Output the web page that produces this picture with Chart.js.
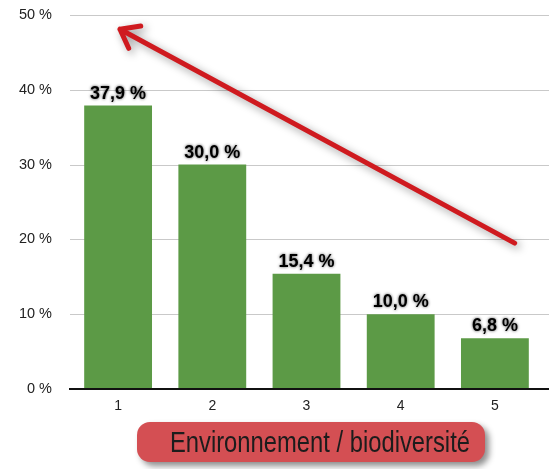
<!DOCTYPE html>
<html>
<head>
<meta charset="utf-8">
<script src="https://cdn.jsdelivr.net/npm/chart.js@4"></script>
<style>
  html, body { margin: 0; padding: 0; background: #fff; }
  #wrap { position: relative; width: 549px; height: 469px; }
  #footer {
    position: absolute; left: 137px; top: 422px; width: 348px; height: 40px;
    border-radius: 13px; background: #d44f53;
    box-shadow: 4px 4px 6px rgba(0,0,0,0.45);
    font: 29px 'Liberation Sans', Arial, sans-serif;
    color: #1c1c1c; text-align: center; line-height: 40px; white-space: nowrap;
  }
  #footer span { display: inline-block; transform: scaleX(0.82); transform-origin: center; }
</style>
</head>
<body>
<div id="wrap">
  <canvas id="chart" width="549" height="469"></canvas>
  <div id="footer"><span></span></div>
</div>
<script>
// values
const categories = ['1', '2', '3', '4', '5'];
const shares = [37.9, 30.0, 15.4, 10.0, 6.8];
const yTickValues = [0, 10, 20, 30, 40, 50];
// red arrow, in chart units (category index, percent)
const arrowFrom = { x: 4.21, y: 19.5 };
const arrowTo = { x: 0.02, y: 48.1 };
const footerText = 'Environnement / biodiversité';

const FONT = "'Liberation Sans', Arial, Helvetica, sans-serif";

document.querySelector('#footer span').textContent = footerText;

function pct(v) {
    return v.toFixed(1).replace('.', ',') + ' %';
}

// grid lines run past the plot to the canvas edge, axis line over the bars
const gridPlugin = {
    id: 'grid',
    beforeDatasetsDraw(chart) {
        const ctx = chart.ctx, y = chart.scales.y;
        ctx.save();
        ctx.strokeStyle = '#c9c9c9';
        ctx.lineWidth = 1;
        yTickValues.forEach(v => {
            if (v === 0) return;
            const py = Math.round(y.getPixelForValue(v)) + 0.5;
            ctx.beginPath();
            ctx.moveTo(chart.chartArea.left - 1, py);
            ctx.lineTo(chart.width, py);
            ctx.stroke();
        });
        ctx.restore();
    },
    afterDatasetsDraw(chart) {
        const ctx = chart.ctx, y = chart.scales.y;
        const py = y.getPixelForValue(0);
        ctx.save();
        ctx.strokeStyle = '#111';
        ctx.lineWidth = 2;
        ctx.beginPath();
        ctx.moveTo(chart.chartArea.left - 2, py);
        ctx.lineTo(chart.width, py);
        ctx.stroke();

        // value labels above each bar
        const meta = chart.getDatasetMeta(0);
        ctx.font = 'bold 18px ' + FONT;
        ctx.textAlign = 'center';
        ctx.textBaseline = 'alphabetic';
        ctx.fillStyle = '#000';
        ctx.shadowColor = 'rgba(0,0,0,0.7)';
        ctx.shadowBlur = 3;
        meta.data.forEach((bar, i) => {
            ctx.fillText(pct(shares[i]), bar.x, bar.y - 7);
        });
        ctx.restore();
    },
    afterDraw(chart) {
        const ctx = chart.ctx, xs = chart.scales.x, ys = chart.scales.y;
        const x0 = xs.getPixelForValue(arrowFrom.x), y0 = ys.getPixelForValue(arrowFrom.y);
        const x1 = xs.getPixelForValue(arrowTo.x), y1 = ys.getPixelForValue(arrowTo.y);
        const ang = Math.atan2(y0 - y1, x0 - x1);
        const head = 21, spread = 37 * Math.PI / 180;
        ctx.save();
        ctx.strokeStyle = '#cf1a1f';
        ctx.lineWidth = 5;
        ctx.lineCap = 'round';
        ctx.lineJoin = 'round';
        ctx.shadowColor = 'rgba(0,0,0,0.4)';
        ctx.shadowBlur = 8;
        ctx.shadowOffsetX = 3;
        ctx.shadowOffsetY = 3;
        ctx.beginPath();
        ctx.moveTo(x0, y0);
        ctx.lineTo(x1, y1);
        ctx.moveTo(x1 + head * Math.cos(ang - spread), y1 + head * Math.sin(ang - spread));
        ctx.lineTo(x1, y1);
        ctx.lineTo(x1 + head * Math.cos(ang + spread), y1 + head * Math.sin(ang + spread));
        ctx.stroke();
        ctx.restore();
    }
};

new Chart(document.getElementById('chart'), {
    type: 'bar',
    data: {
        labels: categories,
        datasets: [{
            data: shares,
            backgroundColor: '#5c9a46',
            borderWidth: 0,
            categoryPercentage: 1,
            barPercentage: 0.72
        }]
    },
    options: {
        responsive: false,
        animation: false,
        layout: { padding: { top: 15, right: 7, bottom: 0, left: 0 } },
        plugins: {
            legend: { display: false },
            tooltip: { enabled: false }
        },
        scales: {
            x: {
                grid: { display: false, drawTicks: false },
                border: { display: false },
                ticks: { color: '#222', font: { family: FONT, size: 14 }, padding: 9 },
                afterFit(scale) { scale.height = 80; }
            },
            y: {
                min: 0,
                max: 50,
                grid: { display: false, drawTicks: false },
                border: { display: false },
                ticks: {
                    stepSize: 10,
                    color: '#222',
                    padding: 19,
                    font: { family: FONT, size: 14.5 },
                    callback: v => v + ' %'
                },
                afterFit(scale) {
                    scale.width = 71;
                    scale.paddingTop = 0;
                    scale.paddingBottom = 0;
                }
            }
        }
    },
    plugins: [gridPlugin]
});
</script>
</body>
</html>
